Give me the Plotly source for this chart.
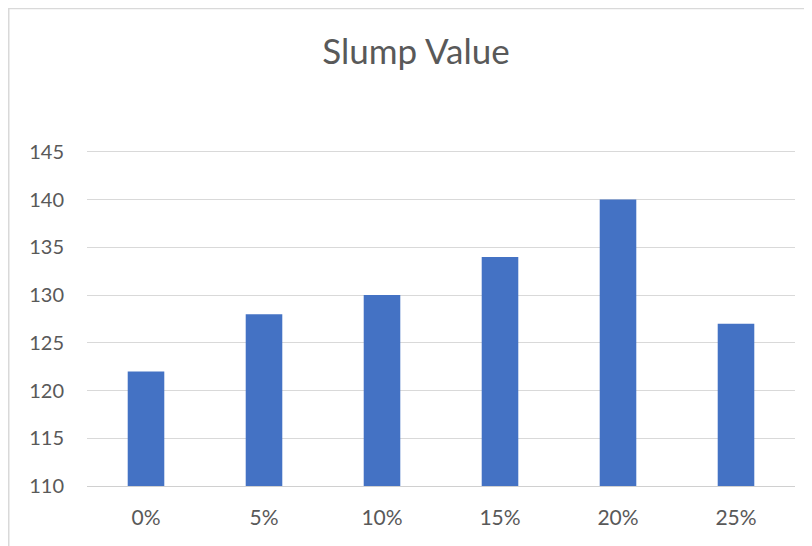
import plotly.graph_objects as go

categories = ["0%", "5%", "10%", "15%", "20%", "25%"]
slump_values = [122, 128, 130, 134, 140, 127]
y_ticks = [110, 115, 120, 125, 130, 135, 140, 145]

# page has an 8px body margin; work in figure coordinates
W, H = 804, 538
Y0, Y1 = 110, 145.3
unit = 334 / 35.0  # px per value unit
L, R, B = 79, 17, 60
T = H - B - unit * (Y1 - Y0)
pw, ph = W - L - R, H - T - B

fig = go.Figure(go.Bar(
    x=categories, y=[v - Y0 for v in slump_values], base=Y0,
    marker_color="#4472C4", marker_line_width=0, width=0.31,
    hovertext=[str(v) for v in slump_values],
))

font = "Lato, 'Open Sans', sans-serif"
fig.update_layout(
    width=W, height=H,
    margin=dict(l=L, r=R, t=T, b=B),
    paper_bgcolor="white", plot_bgcolor="white",
    showlegend=False,
    title=dict(text="Slump Value", x=408 / W, xanchor="center",
               y=1 - 44 / H, yanchor="middle", yref="container",
               font=dict(family=font, size=35, color="#595959")),
    font=dict(family=font, size=20, color="#595959"),
    xaxis=dict(showgrid=False, showline=True, linecolor="#D0D0D0", linewidth=1,
               ticks="", ticklabelstandoff=13, tickfont=dict(size=21, color="#595959")),
    yaxis=dict(range=[Y0, Y1], tickvals=y_ticks, showgrid=True,
               gridcolor="#D9D9D9", gridwidth=1, zeroline=False, showline=False,
               ticks="", ticklabelstandoff=22, tickfont=dict(size=20, color="#595959")),
    shapes=[dict(type="rect", xref="paper", yref="paper",
                 x0=(0.75 - L) / pw, x1=(830 - L) / pw,
                 y0=(H - B - 560) / ph, y1=(H - B - 0.75) / ph,
                 line=dict(color="#D9D9D9", width=1.5), fillcolor="rgba(0,0,0,0)",
                 layer="below")],
)

fig.write_html("out.html")
